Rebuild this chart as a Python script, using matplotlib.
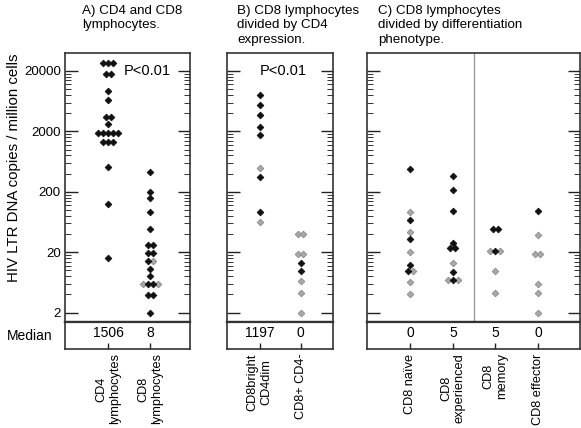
import numpy as np
import matplotlib
matplotlib.use("Agg")
import matplotlib.pyplot as plt

plt.rcParams['font.family'] = ['Liberation Sans', 'DejaVu Sans']

# ---------------- data ----------------
a_categories = ["CD4\nlymphocytes", "CD8\nlymphocytes"]
a_medians = ["1506", "8"]
a_cd4_values = [26700, 26700, 26700, 17800, 17800, 9300, 6500, 3400, 3400, 2650,
                1880, 1880, 1880, 1880, 1880, 1320, 1320, 1320, 520, 126, 15.9]
a_cd4_black = [1] * 21
a_cd8_values = [430, 196, 156, 94, 48, 26.4, 26.4, 19.7, 19.7, 14.5, 14.5, 10.7, 8.0,
                6.0, 6.0, 6.0, 6.0, 3.9, 3.9, 1.98]
a_cd8_black = [1, 1, 1, 1, 1, 1, 1, 1, 1, 1, 0, 1, 1, 0, 1, 1, 0, 1, 1, 1]

b_categories = ["CD8bright\nCD4dim", "CD8+ CD4-"]
b_medians = ["1197", "0"]
b_bright_values = [7985, 5395, 3686, 2360, 1720, 495, 355, 93.7, 63.3]
b_bright_black = [1, 1, 1, 1, 1, 0, 1, 1, 0]
b_neg_values = [40.5, 40.5, 18.5, 18.5, 13.1, 9.8, 6.7, 4.28, 1.98]
b_neg_black = [0, 0, 0, 0, 1, 1, 0, 0, 0]

c_categories = ["CD8 naïve", "CD8\nexperienced", "CD8\nmemory", "CD8 effector"]
c_medians = ["0", "5", "5", "0"]
c_naive_values = [482, 91.6, 68.3, 42.8, 33.1, 20.2, 12.2, 9.9, 9.9, 6.44, 4.08]
c_naive_black = [1, 0, 1, 0, 1, 0, 1, 1, 0, 0, 0]
c_exp_values = [365, 214, 97.3, 28.8, 23.2, 23.2, 13.1, 9.3, 6.95, 6.95, 6.95]
c_exp_black = [1, 1, 1, 1, 1, 1, 0, 1, 0, 1, 0]
c_mem_values = [48.5, 48.5, 21.2, 21.2, 21.2, 9.8, 4.24]
c_mem_black = [1, 1, 0, 1, 0, 0, 0]
c_eff_values = [97.3, 38.6, 18.7, 18.7, 5.9, 4.28, 2.0]
c_eff_black = [1, 0, 0, 0, 0, 0, 0]

y_major = [2, 20, 200, 2000, 20000]
y_major_labels = ["2", "20", "200", "2000", "20000"]
p_text = "P<0.01"

# ---------------- layout ----------------
W, H = 581, 428
fig = plt.figure(figsize=(W / 100, H / 100), dpi=100)

TOP, MID, BOT = 53, 322.3, 349.3
FS = 10
FRAME = '#333333'


def px_axes(x0, x1, y0, y1):
    return fig.add_axes([x0 / W, 1 - y1 / H, (x1 - x0) / W, (y1 - y0) / H])


minor_mid = []
minor_dense = []
for n in range(4):
    for k in [4, 6, 8]:
        minor_mid.append(k * 10 ** n)
    for k in [10, 12, 14, 16, 18]:
        minor_dense.append(k * 10 ** n)


def swarm(ax, xpos, values, flags, step=0.12):
    values = np.asarray(values, float)
    flags = np.asarray(flags)
    offs = np.zeros(len(values))
    for v in np.unique(values):
        idx = np.where(values == v)[0]
        n = len(idx)
        offs[idx] = (np.arange(n) - (n - 1) / 2) * step
    xs = xpos + offs
    for f, fc, ec in [(0, '#a8a8a8', '#8a8a8a'), (1, '#111111', '#111111')]:
        m = flags == f
        ax.plot(xs[m], values[m], ls='none', marker='D', ms=3.4,
                mfc=fc, mec=ec, mew=0.6, zorder=3)


def make_panel(x0, x1, xlim, cats, medians, series, show_labels=False, ptext=None):
    ax = px_axes(x0, x1, TOP, MID)
    axm = px_axes(x0, x1, MID, BOT)
    ax.set_yscale('log')
    ax.set_ylim(1.387, 39540)
    ax.set_xlim(*xlim)
    ax.set_yticks(y_major)
    ax.set_yticks(minor_mid + minor_dense, minor=True)
    if show_labels:
        ax.set_yticklabels(y_major_labels, fontsize=9.5)
    else:
        ax.set_yticklabels([])
    ax.set_yticklabels([], minor=True)
    ax.tick_params(axis='y', which='major', direction='in', length=9, width=1,
                   left=True, right=True, color='#222222', pad=3)
    ax.tick_params(axis='y', which='minor', direction='in', length=4.5, width=0.7,
                   left=True, right=True, color='#333333')
    ax.set_xticks([])
    for s in ax.spines.values():
        s.set_color(FRAME)
        s.set_linewidth(1.2)
    ax.spines['bottom'].set_linewidth(1.6)
    for i, (vals, flags) in enumerate(series):
        swarm(ax, i + 1, vals, flags)
    if ptext:
        ax.text(ptext, 20000, p_text, ha='center', va='center', fontsize=10.5)

    axm.set_xlim(*xlim)
    axm.set_ylim(0, 1)
    axm.set_yticks([])
    axm.set_xticks(range(1, len(cats) + 1))
    axm.set_xticklabels(cats, rotation=90, ha='center', va='top',
                        multialignment='center', fontsize=9.2)
    axm.tick_params(axis='x', direction='in', length=4, width=1, pad=3, color='#222222')
    for s in axm.spines.values():
        s.set_color(FRAME)
        s.set_linewidth(1.2)
    axm.spines['top'].set_linewidth(1.6)
    for i, m in enumerate(medians):
        axm.text(i + 1, 0.6, m, ha='center', va='center', fontsize=FS)
    return ax, axm


make_panel(65, 190, (-0.024, 2.95), a_categories, a_medians,
           [(a_cd4_values, a_cd4_black), (a_cd8_values, a_cd8_black)],
           show_labels=True, ptext=1.94)
make_panel(226.7, 332.7, (0.2, 2.78), b_categories, b_medians,
           [(b_bright_values, b_bright_black), (b_neg_values, b_neg_black)],
           ptext=1.58)
axc, axcm = make_panel(367, 580, (-0.02, 4.99), c_categories, c_medians,
                       [(c_naive_values, c_naive_black), (c_exp_values, c_exp_black),
                        (c_mem_values, c_mem_black), (c_eff_values, c_eff_black)])
axc.axvline(2.5, color='#9a9a9a', lw=1, zorder=1)

# texts
fig.text(14 / W, 1 - 168 / H, "HIV LTR DNA copies / million cells", rotation=90,
         ha='center', va='center', fontsize=10.8)
fig.text(52 / W, 1 - 336 / H, "Median", ha='right', va='center', fontsize=FS)
title_kw = dict(ha='left', va='top', fontsize=9.6, linespacing=1.25)
fig.text(82 / W, 1 - 5 / H, "A) CD4 and CD8\nlymphocytes.", **title_kw)
fig.text(237 / W, 1 - 5 / H, "B) CD8 lymphocytes\ndivided by CD4\nexpression.", **title_kw)
fig.text(378 / W, 1 - 5 / H, "C) CD8 lymphocytes\ndivided by differentiation\nphenotype.", **title_kw)

fig.savefig("out.png", dpi=100)
